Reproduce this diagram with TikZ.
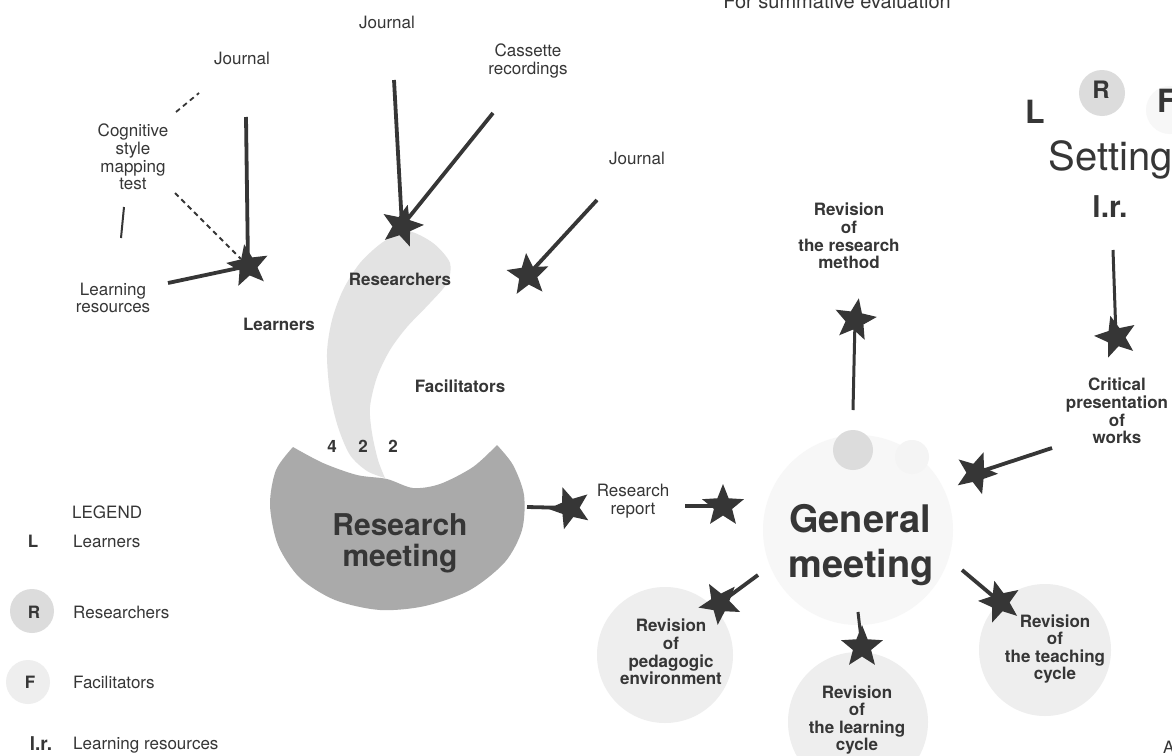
\documentclass[tikz,border=0pt]{standalone}
\usepackage{fontspec}
\setmainfont{TeX Gyre Heros}
\usetikzlibrary{shapes.geometric}
\definecolor{ink}{HTML}{363636}
\definecolor{meetgrey}{HTML}{AAAAAA}
\definecolor{rescol}{HTML}{E3E3E3}
\definecolor{palecol}{HTML}{EEEEEE}
\definecolor{faintcol}{HTML}{F7F7F7}
\definecolor{dotcol}{HTML}{DCDCDC}
\newcommand\fsz[2]{\fontsize{#1}{#2}\selectfont}
\begin{document}
\begin{tikzpicture}[x=1pt,y=-1pt,
  txt/.style={text=ink, inner sep=0pt, align=center, font=\fsz{17}{17.6}},
  btxt/.style={txt, font=\fsz{17}{17.6}\bfseries},
  burst/.style={star, star points=5, star point ratio=2.3, fill=ink, draw=none,
                minimum size=44pt, inner sep=0pt},
  feed/.style={draw=ink, line width=3.8pt},
  thinfeed/.style={draw=ink, line width=3pt},
  hint/.style={draw=ink, line width=1.8pt, dash pattern=on 5pt off 4pt},
  tick/.style={draw=ink, line width=2pt}]
\useasboundingbox (0,0) rectangle (1172,755);
\clip (0,0) rectangle (1172,755);
\fill[white] (0,0) rectangle (1172,755);

% ---------- background discs ----------
\fill[faintcol] (858,530) circle[radius=95pt];
\fill[dotcol] (853,450) circle[radius=20pt];
\fill[faintcol!60!palecol] (912,457) circle[radius=17pt];
\fill[palecol] (665,655) circle[radius=68pt];
\fill[palecol] (858,722) circle[radius=70pt];
\fill[palecol] (1045,650) circle[radius=66pt];

% ---------- research meeting (disc with a bite) ----------
\fill[meetgrey] plot[smooth] coordinates {(293,447) (276,470) (270,505) (278,545)
   (300,578) (335,600) (380,610) (425,606) (470,590) (505,562) (522,530)
   (524,495) (513,465) (497,445)}
  -- plot[smooth] coordinates {(497,445) (473,467) (440,484) (413,488)
   (387,479) (357,475) (323,463) (293,447)} -- cycle;

% ---------- researchers' horn ----------
\fill[rescol] plot[smooth] coordinates {(385,478) (367,471) (350,455) (338,427)
   (330,393) (327,353) (332,320) (343,290) (360,263) (383,242) (407,231)
   (433,243) (450,263) (447,283) (430,303) (407,327) (390,350) (377,377)
   (370,407) (372,433) (378,460) (385,478)} -- cycle;

% ---------- labels ----------
\node[txt, font=\fsz{20}{22}, anchor=base] (summ) at (837,8) {For summative evaluation};
\node[txt] (jrnA) at (387,22) {Journal};
\node[txt] (cass) at (528,61) {Cassette\\recordings};
\node[txt] (jrnB) at (242,58) {Journal};
\node[txt] (jrnC) at (637,158) {Journal};
\node[txt] (cog) at (133,157) {Cognitive\\style\\mapping\\test};
\node[txt] (lres) at (113,298) {Learning\\resources};
\node[btxt] (resL) at (400,279) {Researchers};
\node[btxt] (lrnL) at (279,324) {Learners};
\node[btxt] (facL) at (460,386) {Facilitators};
\node[btxt] (n4) at (332,446) {4};
\node[btxt] (n2a) at (363,446) {2};
\node[btxt] (n2b) at (393,446) {2};

\node[txt, font=\fsz{30}{32}\bfseries, anchor=base] (rmA) at (400,535) {Research};
\node[txt, font=\fsz{30}{32}\bfseries, anchor=base] (rmB) at (400,566) {meeting};
\node[txt] (rrep) at (633,501) {Research\\report};
\node[txt, font=\fsz{38}{40}\bfseries, anchor=base] (gmA) at (860,532) {General};
\node[txt, font=\fsz{38}{40}\bfseries, anchor=base] (gmB) at (861,577) {meeting};

\node[btxt] (rvRM) at (849,236) {Revision\\of\\the research\\method};
\node[btxt] (crit) at (1117,411) {Critical\\presentation\\of\\works};
\node[btxt] (rvPE) at (671,652) {Revision\\of\\pedagogic\\environment};
\node[btxt] (rvLC) at (857,720) {Revision\\of\\the learning\\cycle};
\node[btxt] (rvTC) at (1055,649) {Revision\\of\\the teaching\\cycle};
\node[txt, anchor=west] (cornerA) at (1163,747) {A};

% ---------- setting ----------
\fill[dotcol] (1102,93) circle[radius=23pt];
\fill[faintcol] (1170,110) circle[radius=24pt];
\node[txt, font=\fsz{40}{44}, anchor=base] (setting) at (1111,170) {Setting};
\node[txt, font=\fsz{30}{32}\bfseries, anchor=base] (lrS) at (1110,217) {l.r.};
\node[txt, font=\fsz{24}{26}\bfseries, anchor=base] (Rs) at (1101,98) {R};
\node[txt, font=\fsz{32}{34}\bfseries, anchor=base] (Ls) at (1035,123) {L};
\node[txt, font=\fsz{32}{34}\bfseries, anchor=base west] (Fs) at (1157,112) {F};

% ---------- legend ----------
\node[txt, anchor=west] (legT) at (72,512) {LEGEND};
\node[btxt] (legL) at (33,541) {L};
\node[txt, anchor=west] (legLt) at (73,541) {Learners};
\fill[dotcol] (32,611) circle[radius=22pt];
\node[btxt] (legR) at (34,612) {R};
\node[txt, anchor=west] (legRt) at (73,612) {Researchers};
\fill[palecol] (28,682) circle[radius=22pt];
\node[btxt] (legF) at (30,682) {F};
\node[txt, anchor=west] (legFt) at (73,682) {Facilitators};
\node[btxt, font=\fsz{19}{20}\bfseries] (legLR) at (41,744) {l.r.};
\node[txt, anchor=west] (legLRt) at (73,745) {Learning resources};

% ---------- star heads ----------
\node[burst, rotate=10]  (sL)  at (248,266) {};
\node[burst, rotate=-15] (sR)  at (402,226) {};
\node[burst, rotate=5]   (sX)  at (528,275) {};
\node[burst, rotate=20]  (sRR) at (570,508) {};
\node[burst, rotate=0]   (sGM) at (723,506) {};
\node[burst, rotate=-10] (sRM) at (855,320) {};
\node[burst, rotate=15]  (sCP) at (1116,337) {};
\node[burst, rotate=-20] (sCW) at (976,473) {};
\node[burst, rotate=30]  (sPE) at (720,603) {};
\node[burst, rotate=0]   (sLC) at (862,647) {};
\node[burst, rotate=15]  (sTC) at (1000,602) {};

% ---------- free ends of the feeds ----------
\coordinate (eJB)  at (246,117);
\coordinate (eLR)  at (168,283);
\coordinate (eJA)  at (394,80);
\coordinate (eCa)  at (493,113);
\coordinate (eJC)  at (597,200);
\coordinate (eRM)  at (527,507);
\coordinate (eRR)  at (685,506);
\coordinate (eGMu) at (853,410);
\coordinate (eSet) at (1113,250);
\coordinate (eCrt) at (1052,448);
\coordinate (eGMl) at (758,575);
\coordinate (eGMb) at (858,612);
\coordinate (eGMr) at (962,570);
\coordinate (dA1)  at (176,112);
\coordinate (dA2)  at (199,93);
\coordinate (dB1)  at (175,193);
\coordinate (tk1)  at (124,207);
\coordinate (tk2)  at (121,238);

% ---------- connectors ----------
\draw[feed] (eJB) -- (sL.center);
\draw[feed] (eLR) -- (sL.center);
\draw[hint] (dB1) -- (sL);
\draw[hint] (dA1) -- (dA2);
\draw[tick] (tk1) -- (tk2);
\draw[feed] (eJA) -- (sR.center);
\draw[feed] (eCa) -- (sR.center);
\draw[feed] (eJC) -- (sX.center);
\draw[feed] (eRM) -- (sRR.center);
\draw[feed] (eRR) -- (sGM.center);
\draw[thinfeed] (eGMu) -- (sRM.center);
\draw[thinfeed] (eSet) -- (sCP.center);
\draw[feed] (eCrt) -- (sCW.center);
\draw[feed] (eGMl) -- (sPE.center);
\draw[thinfeed] (eGMb) -- (sLC.center);
\draw[feed] (eGMr) -- (sTC.center);
\end{tikzpicture}
\end{document}
